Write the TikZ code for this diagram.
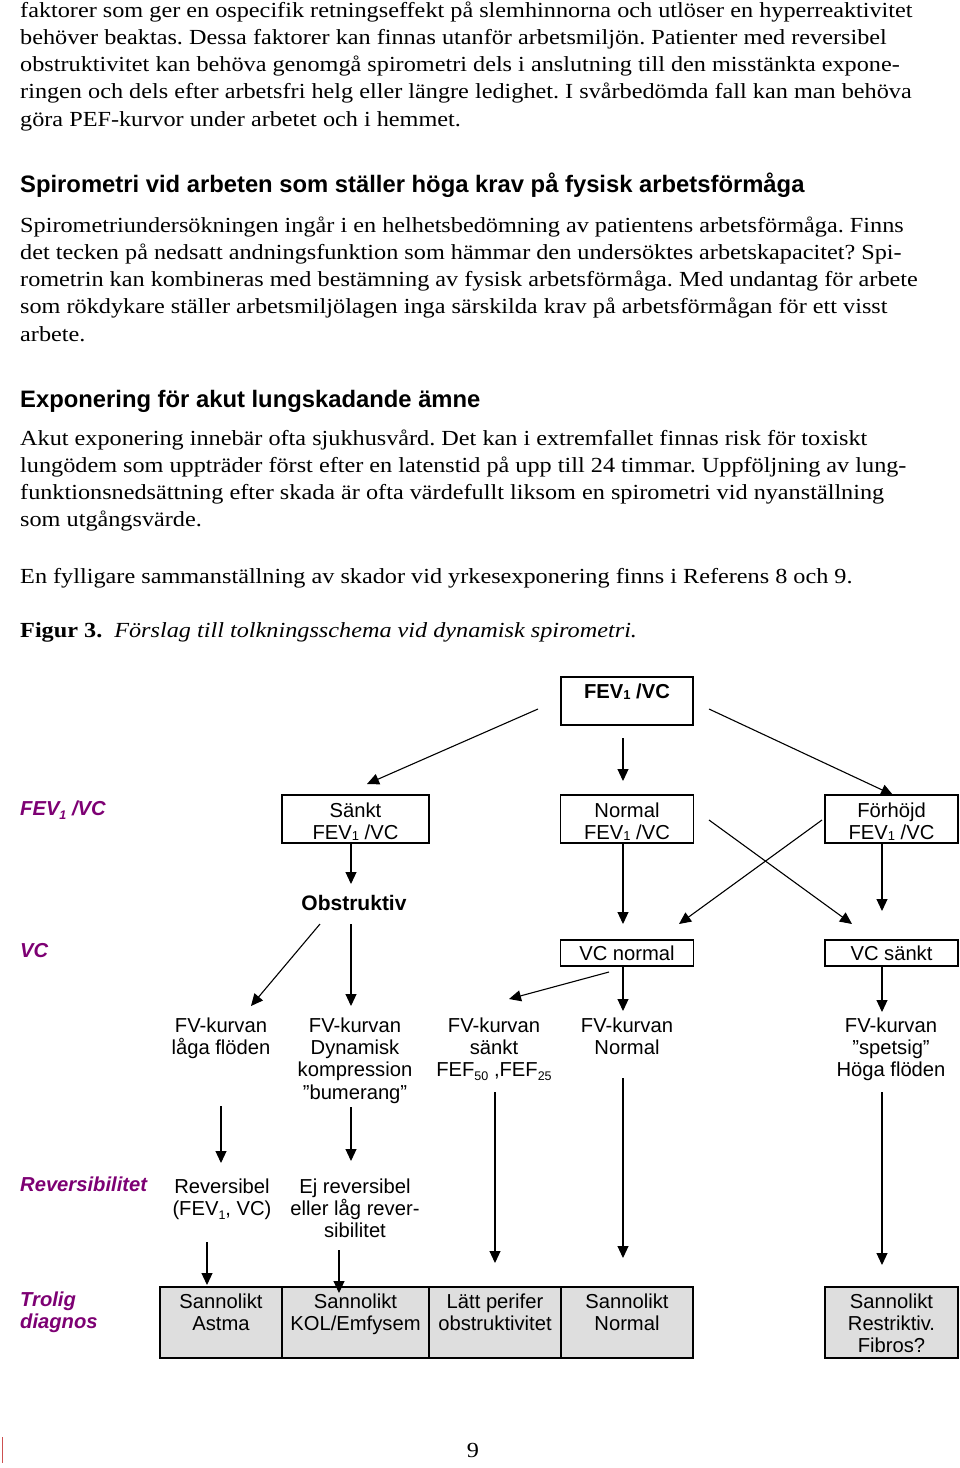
\documentclass[tikz,border=0pt]{standalone}
\usepackage{fontspec}
\setmainfont[FakeStretch=1.127]{Liberation Serif}
\newfontfamily\arial{Liberation Sans}
\usetikzlibrary{arrows.meta}
\definecolor{labcol}{RGB}{125,0,115}
\definecolor{boxgray}{RGB}{222,222,222}
\definecolor{barred}{RGB}{205,80,80}
\newcommand{\bodyfnt}{\fontsize{21.5}{27}\selectfont}
\newcommand{\headfnt}{\arial\bfseries\fontsize{23.8}{28}\selectfont}
\newcommand{\dfnt}{\arial\fontsize{20.2}{22.3}\selectfont}
\newcommand{\lfnt}{\arial\bfseries\itshape\fontsize{20.2}{22}\selectfont}
\newcommand{\fs}{\rule{0pt}{16pt}}
\newcommand{\smone}{\raisebox{-1pt}{\fontsize{13}{13}\selectfont 1}}
\newcommand{\mysub}[1]{\raisebox{-3.5pt}{\fontsize{12.5}{12.5}\selectfont #1}}
\frenchspacing
\begin{document}
\begin{tikzpicture}[x=1pt,y=-1pt,
  bl/.style={anchor=base west, inner sep=0pt, font=\bodyfnt},
  hl/.style={anchor=base west, inner sep=0pt, font=\headfnt},
  box/.style={draw, line width=1.1pt, inner sep=0pt, minimum width=#1, minimum height=48pt},
  gbox/.style={draw, line width=1.1pt, inner sep=0pt, fill=boxgray, minimum width=#1, minimum height=71pt},
  vbox/.style={draw, line width=1.1pt, inner sep=0pt, minimum width=#1, minimum height=26pt},
  dt/.style={font=\dfnt, align=center, inner sep=0pt, anchor=north},
  lab/.style={font=\lfnt, text=labcol, inner sep=0pt, anchor=north west, align=left},
  arr/.style={line width=1.1pt, -{Triangle[length=12pt,width=11pt]}}]
\useasboundingbox (0,0) rectangle (960,1468);

% ---------- body text ----------
\node[bl] (p1a) at (20,17) {faktorer som ger en ospecifik retningseffekt på slemhinnorna och utlöser en hyperreaktivitet};
\node[bl] (p1b) at (20,44.3) {behöver beaktas. Dessa faktorer kan finnas utanför arbetsmiljön. Patienter med reversibel};
\node[bl] (p1c) at (20,71.6) {obstruktivitet kan behöva genomgå spirometri dels i anslutning till den misstänkta expone-};
\node[bl] (p1d) at (20,98.9) {ringen och dels efter arbetsfri helg eller längre ledighet. I svårbedömda fall kan man behöva};
\node[bl] (p1e) at (20,126.2) {göra PEF-kurvor under arbetet och i hemmet.};

\node[hl] (h1) at (20,192) {Spirometri vid arbeten som ställer höga krav på fysisk arbetsförmåga};
\node[bl] (p2a) at (20,232) {Spirometriundersökningen ingår i en helhetsbedömning av patientens arbetsförmåga. Finns};
\node[bl] (p2b) at (20,259.3) {det tecken på nedsatt andningsfunktion som hämmar den undersöktes arbetskapacitet? Spi-};
\node[bl] (p2c) at (20,286.6) {rometrin kan kombineras med bestämning av fysisk arbetsförmåga. Med undantag för arbete};
\node[bl] (p2d) at (20,313.9) {som rökdykare ställer arbetsmiljölagen inga särskilda krav på arbetsförmågan för ett visst};
\node[bl] (p2e) at (20,341.2) {arbete.};

\node[hl] (h2) at (20,407) {Exponering för akut lungskadande ämne};
\node[bl] (p3a) at (20,445) {Akut exponering innebär ofta sjukhusvård. Det kan i extremfallet finnas risk för toxiskt};
\node[bl] (p3b) at (20,472.3) {lungödem som uppträder först efter en latenstid på upp till 24 timmar. Uppföljning av lung-};
\node[bl] (p3c) at (20,499.6) {funktionsnedsättning efter skada är ofta värdefullt liksom en spirometri vid nyanställning};
\node[bl] (p3d) at (20,526.9) {som utgångsvärde.};
\node[bl] (p4) at (20,583) {En fylligare sammanställning av skador vid yrkesexponering finns i Referens 8 och 9.};
\node[bl] (cap) at (20,637) {\textbf{Figur 3.}\hspace{12pt}\textit{Förslag till tolkningsschema vid dynamisk spirometri.}};

% ---------- row labels ----------
\node[lab] (lfev) at (20,801) {FEV\mysub{1} /VC};
\node[lab] (lvc) at (20,943) {VC};
\node[lab] (lrev) at (20,1177) {Reversibilitet};
\node[lab] (ltro) at (20,1292) {Trolig\\diagnos};

% ---------- boxes ----------
\node[box=132pt] (top) at (627,701) {};
\node[dt, font=\dfnt\bfseries] (toptx) at (627,682) {\fs FEV\smone\ /VC};

\node[box=147pt] (sankt) at (355.5,819) {};
\node[dt] (sanktx) at (355.5,801) {\fs Sänkt\\FEV\smone\ /VC};
\node[box=133pt] (norm) at (627,819) {};
\node[dt] (normx) at (627,801) {\fs Normal\\FEV\smone\ /VC};
\node[box=133pt] (forh) at (891.5,819) {};
\node[dt] (forhx) at (891.5,801) {\fs Förhöjd\\FEV\smone\ /VC};

\node[dt, font=\arial\bfseries\fontsize{21}{22}\selectfont] (obst) at (354,894) {\fs Obstruktiv};

\node[vbox=133pt] (vcn) at (627,953) {};
\node[dt] (vcnx) at (627,944) {\fs VC normal};
\node[vbox=133pt] (vcs) at (891.5,953) {};
\node[dt] (vcsx) at (891.5,944) {\fs VC sänkt};

% ---------- FV row ----------
\node[dt] (fv1) at (221,1016) {\fs FV-kurvan\\låga flöden};
\node[dt] (fv2) at (355,1016) {\fs FV-kurvan\\Dynamisk\\kompression\\”bumerang”};
\node[dt] (fv3) at (494,1016) {\fs FV-kurvan\\sänkt\\FEF\mysub{50} ,FEF\mysub{25}};
\node[dt] (fv4) at (627,1016) {\fs FV-kurvan\\Normal};
\node[dt] (fv5) at (891,1016) {\fs FV-kurvan\\”spetsig”\\Höga flöden};

% ---------- reversibility row ----------
\node[dt] (rev1) at (222,1177) {\fs Reversibel\\(FEV\mysub{1}, VC)};
\node[dt] (rev2) at (355,1177) {\fs Ej reversibel\\eller låg rever-\\sibilitet};

% ---------- diagnosis boxes ----------
\node[gbox=122pt] (d1) at (221,1322.5) {};
\node[gbox=147pt] (d2) at (355.5,1322.5) {};
\node[gbox=132pt] (d3) at (495,1322.5) {};
\node[gbox=132pt] (d4) at (627,1322.5) {};
\node[gbox=133pt] (d5) at (891.5,1322.5) {};
\node[dt] (d1x) at (221,1292) {\fs Sannolikt\\Astma};
\node[dt] (d2x) at (355.5,1292) {\fs Sannolikt\\KOL/Emfysem};
\node[dt] (d3x) at (495,1292) {\fs Lätt perifer\\obstruktivitet};
\node[dt] (d4x) at (627,1292) {\fs Sannolikt\\Normal};
\node[dt] (d5x) at (891.5,1292) {\fs Sannolikt\\Restriktiv.\\Fibros?};

% ---------- connectors ----------
\coordinate (a1s) at (538,709);  \coordinate (a1e) at (367,784);
\coordinate (a2s) at (623,738);  \coordinate (a2e) at (623,781);
\coordinate (a3s) at (709,709);  \coordinate (a3e) at (893,795);
\coordinate (a4s) at (351,843);  \coordinate (a4e) at (351,884);
\coordinate (a5s) at (623,843);  \coordinate (a5e) at (623,924);
\coordinate (a6s) at (709,820);  \coordinate (a6e) at (852,924);
\coordinate (a7s) at (822,820);  \coordinate (a7e) at (679,924);
\coordinate (a8s) at (882,843);  \coordinate (a8e) at (882,911);
\coordinate (a9s) at (320,924);  \coordinate (a9e) at (251,1006);
\coordinate (a10s) at (351,924); \coordinate (a10e) at (351,1006);
\coordinate (a11s) at (609,972); \coordinate (a11e) at (509,999);
\coordinate (a12s) at (623,966); \coordinate (a12e) at (623,1011);
\coordinate (a13s) at (882,966); \coordinate (a13e) at (882,1012);
\coordinate (a14s) at (221,1106); \coordinate (a14e) at (221,1163);
\coordinate (a15s) at (351,1107); \coordinate (a15e) at (351,1161);
\coordinate (a16s) at (495,1092); \coordinate (a16e) at (495,1263);
\coordinate (a17s) at (623,1078); \coordinate (a17e) at (623,1258);
\coordinate (a18s) at (882,1092); \coordinate (a18e) at (882,1265);
\coordinate (a19s) at (207,1242); \coordinate (a19e) at (207,1285);
\coordinate (a20s) at (339,1250); \coordinate (a20e) at (339,1293);
\foreach \i in {1,...,20} {\draw[arr] (a\i s) -- (a\i e);}

% ---------- footer ----------
\node[anchor=base, inner sep=0pt, font=\bodyfnt] (pnum) at (473,1457) {9};
\coordinate (rb1) at (2.5,1437); \coordinate (rb2) at (2.5,1463);
\draw[barred, line width=1.3pt] (rb1) -- (rb2);
\end{tikzpicture}
\end{document}
